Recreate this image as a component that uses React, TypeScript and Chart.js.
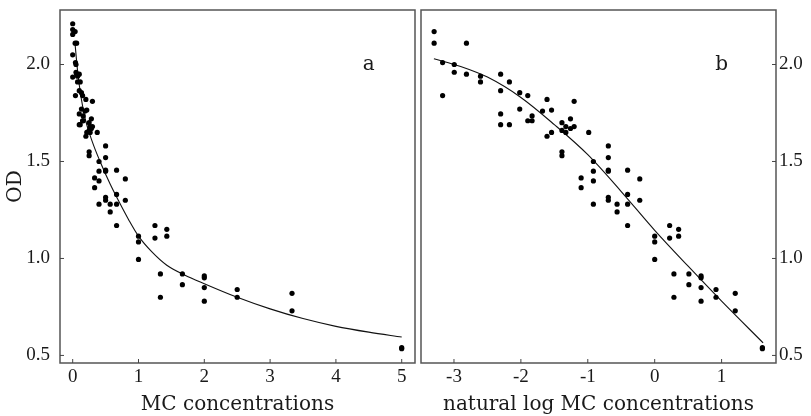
import { useEffect, useRef } from "react";
import { Chart, registerables } from "chart.js";

Chart.register(...registerables);

// ---- data ----
// OD of the control samples (concentration 0, only in panel a)
const zeroConcOD = [2.21, 2.18, 2.155, 2.05, 1.935];

// MC concentration of each sample and its OD
const concentrations = [
  0.037, 0.037, 0.042, 0.042, 0.05, 0.05, 0.06, 0.06, 0.074, 0.074,
  0.1, 0.1, 0.1, 0.1, 0.114, 0.114, 0.133, 0.133, 0.15, 0.15,
  0.16, 0.16, 0.187, 0.2, 0.2, 0.214, 0.214,
  0.25, 0.25, 0.25, 0.25, 0.265, 0.265, 0.284, 0.284, 0.3, 0.3,
  0.333, 0.333, 0.373, 0.4, 0.4, 0.4, 0.4,
  0.5, 0.5, 0.5, 0.5, 0.5, 0.5, 0.57, 0.57,
  0.667, 0.667, 0.667, 0.667, 0.8, 0.8,
  1, 1, 1, 1.25, 1.25, 1.333, 1.333, 1.43, 1.43, 1.667, 1.667,
  2, 2, 2, 2, 2.5, 2.5, 3.333, 3.333, 5, 5,
];
const odValues = [
  2.17, 2.11, 2.01, 1.84, 2.0, 1.96, 2.11, 1.95, 1.94, 1.91,
  1.95, 1.865, 1.745, 1.69, 1.91, 1.69, 1.855, 1.77, 1.84, 1.71,
  1.735, 1.71, 1.76, 1.82, 1.63, 1.765, 1.65,
  1.7, 1.66, 1.55, 1.53, 1.68, 1.65, 1.72, 1.67, 1.81, 1.68,
  1.415, 1.365, 1.65, 1.5, 1.45, 1.4, 1.28,
  1.58, 1.52, 1.455, 1.45, 1.315, 1.3, 1.28, 1.24,
  1.455, 1.33, 1.28, 1.17, 1.41, 1.3,
  1.115, 1.085, 0.995, 1.17, 1.105, 0.92, 0.8, 1.15, 1.115, 0.92, 0.865,
  0.91, 0.9, 0.85, 0.78, 0.84, 0.8, 0.82, 0.73, 0.54, 0.535,
];

// fitted curve, panel a (concentration, OD)
const fitAConc = [0.035, 0.07, 0.11, 0.19, 0.3, 0.416, 0.567, 0.693, 0.85, 1.0, 1.2, 1.43, 1.7, 2.0, 2.5, 3.0, 3.5, 4.0, 4.5, 5.0];
const fitAOD = [2.11, 1.98, 1.87, 1.72, 1.6, 1.5, 1.385, 1.3, 1.2, 1.115, 1.035, 0.965, 0.915, 0.87, 0.8, 0.74, 0.69, 0.65, 0.62, 0.595];

// fitted curve, panel b (ln concentration, OD)
const fitBLogConc = [-3.3, -2.9, -2.5, -2.0, -1.5, -1.0, -0.5, 0, 0.5, 1.0, 1.62];
const fitBOD = [2.03, 1.99, 1.935, 1.83, 1.69, 1.535, 1.345, 1.145, 0.96, 0.78, 0.565];

const xTicksA = [0, 1, 2, 3, 4, 5];
const xTicksB = [-3, -2, -1, 0, 1];
const yTicks = [0.5, 1.0, 1.5, 2.0];

const panelLabelA = { text: "a", x: 4.5, y: 2.0 };
const panelLabelB = { text: "b", x: 1.0, y: 2.0 };

const TICK_FONT = { family: "'Liberation Serif', serif", size: 19 };
const TITLE_FONT = { family: "'DejaVu Serif', serif", size: 20, lineHeight: 1 };
const TEXT_COLOR = "#1a1a1a";

const framePlugin = {
  id: "frame",
  afterDatasetsDraw(chart: any, _args: any, opts: any) {
    const { ctx, chartArea: a, scales } = chart;
    ctx.save();
    ctx.strokeStyle = "#555";
    ctx.lineWidth = 1.5;
    ctx.strokeRect(a.left, a.top, a.right - a.left, a.bottom - a.top);
    ctx.lineWidth = 1;
    ctx.strokeStyle = "#444";
    ctx.beginPath();
    for (const t of scales.x.ticks) {
      const px = scales.x.getPixelForValue(t.value);
      ctx.moveTo(px, a.bottom);
      ctx.lineTo(px, a.bottom - 4);
    }
    for (const t of scales.y.ticks) {
      const py = scales.y.getPixelForValue(t.value);
      if (opts.side === "right") {
        ctx.moveTo(a.right, py);
        ctx.lineTo(a.right - 4, py);
      } else {
        ctx.moveTo(a.left, py);
        ctx.lineTo(a.left + 4, py);
      }
    }
    ctx.stroke();
    if (opts.label) {
      ctx.fillStyle = TEXT_COLOR;
      ctx.font = "20px 'DejaVu Serif', serif";
      ctx.textAlign = "center";
      ctx.textBaseline = "middle";
      ctx.fillText(
        opts.label.text,
        scales.x.getPixelForValue(opts.label.x),
        scales.y.getPixelForValue(opts.label.y)
      );
    }
    ctx.restore();
  },
};

function zeroPadding(s: any) {
  s.paddingTop = 0;
  s.paddingBottom = 0;
  s.paddingLeft = 0;
  s.paddingRight = 0;
}

function makeConfig(panel: "a" | "b"): any {
  const isA = panel === "a";
  const scatterPts = isA
    ? [
        ...zeroConcOD.map((v) => ({ x: 0, y: v })),
        ...concentrations.map((c, i) => ({ x: c, y: odValues[i] })),
      ]
    : concentrations.map((c, i) => ({ x: Math.log(c), y: odValues[i] }));
  const fitPts = isA
    ? fitAConc.map((c, i) => ({ x: c, y: fitAOD[i] }))
    : fitBLogConc.map((c, i) => ({ x: c, y: fitBOD[i] }));
  const xTicks = isA ? xTicksA : xTicksB;
  return {
    type: "scatter",
    data: {
      datasets: [
        {
          data: fitPts,
          showLine: true,
          borderColor: "#111",
          borderWidth: 1.1,
          pointRadius: 0,
          cubicInterpolationMode: "monotone",
          order: 2,
        },
        {
          data: scatterPts,
          pointRadius: 2.6,
          pointHoverRadius: 2.6,
          backgroundColor: "#000",
          borderWidth: 0,
          order: 1,
        },
      ],
    },
    options: {
      animation: false,
      responsive: false,
      events: [],
      layout: {
        autoPadding: false,
        padding: isA
          ? { left: 0, right: 3, top: 10, bottom: 0 }
          : { left: 3, right: 0, top: 10, bottom: 0 },
      },
      plugins: {
        legend: { display: false },
        tooltip: { enabled: false },
        frame: { side: isA ? "left" : "right", label: isA ? panelLabelA : panelLabelB },
      },
      scales: {
        x: {
          type: "linear",
          min: isA ? -0.193 : -3.493,
          max: isA ? 5.202 : 1.813,
          grid: { display: false, drawTicks: false },
          border: { display: false },
          afterBuildTicks: (s: any) => {
            s.ticks = xTicks.map((v) => ({ value: v }));
          },
          afterFit: (s: any) => {
            s.height = 53;
            zeroPadding(s);
          },
          ticks: {
            font: TICK_FONT,
            color: TEXT_COLOR,
            padding: 3,
            maxRotation: 0,
            callback: (v: any) => String(v),
          },
          title: {
            display: true,
            text: isA ? "MC concentrations" : "natural log MC concentrations",
            font: TITLE_FONT,
            color: TEXT_COLOR,
            padding: { top: 0, bottom: 1 },
          },
        },
        y: {
          type: "linear",
          position: isA ? "left" : "right",
          min: 0.461,
          max: 2.281,
          grid: { display: false, drawTicks: false },
          border: { display: false },
          afterBuildTicks: (s: any) => {
            s.ticks = yTicks.map((v) => ({ value: v }));
          },
          afterFit: (s: any) => {
            s.width = isA ? 60 : 35;
            zeroPadding(s);
          },
          ticks: {
            font: TICK_FONT,
            color: TEXT_COLOR,
            padding: isA ? 10 : 3,
            callback: (v: any) => Number(v).toFixed(1),
          },
          title: isA
            ? {
                display: true,
                text: "OD",
                font: TITLE_FONT,
                color: TEXT_COLOR,
                padding: { top: 6, bottom: 0 },
              }
            : { display: false },
        },
      },
    },
    plugins: [framePlugin],
  };
}

function Panel({ panel, left, width }: { panel: "a" | "b"; left: number; width: number }) {
  const ref = useRef<HTMLCanvasElement | null>(null);
  useEffect(() => {
    if (!ref.current) return;
    const chart = new Chart(ref.current, makeConfig(panel));
    return () => chart.destroy();
  }, [panel]);
  return (
    <canvas
      ref={ref}
      width={width}
      height={416}
      style={{ position: "absolute", left, top: 0, width, height: 416 }}
    />
  );
}

export default function App() {
  return (
    <div
      style={{
        position: "absolute",
        left: 0,
        top: 0,
        width: 811,
        height: 416,
        background: "#fff",
        overflow: "hidden",
      }}
    >
      <Panel panel="a" left={0} width={418} />
      <Panel panel="b" left={418} width={393} />
    </div>
  );
}
